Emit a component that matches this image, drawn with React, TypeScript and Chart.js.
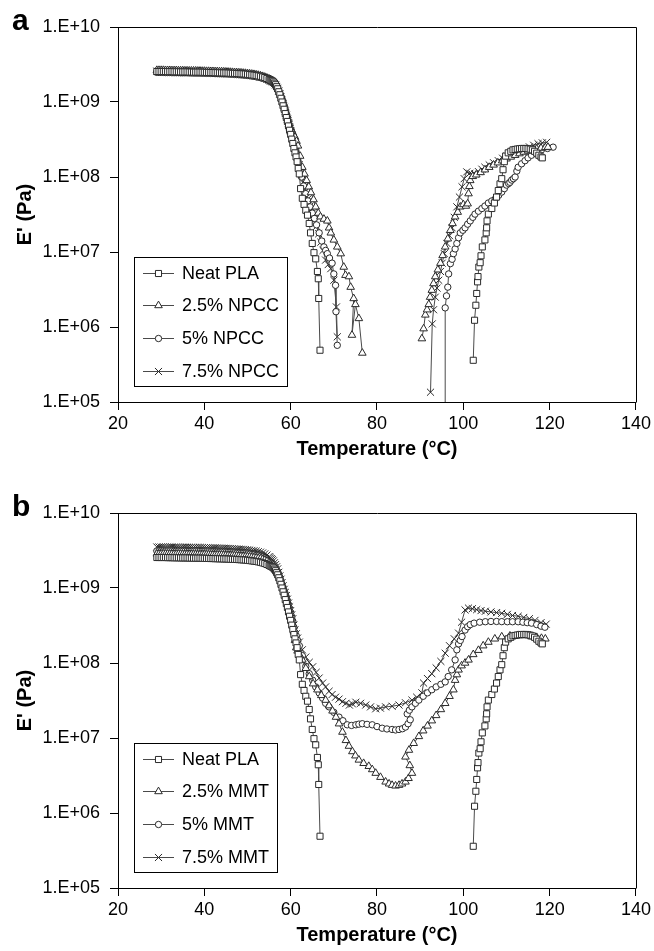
import React, { useEffect, useRef } from 'react';
import { Chart, registerables } from 'chart.js';
import { drawPoint } from 'chart.js/helpers';

Chart.register(...registerables);
Chart.defaults.font.family = "'Liberation Sans', Arial, sans-serif";

// ---------------- DATA ----------------
const tempTicks = [20, 40, 60, 80, 100, 120, 140];
const modulusTicks = [1e5, 1e6, 1e7, 1e8, 1e9, 1e10];

const panelALabels = ['Neat PLA', '2.5% NPCC', '5% NPCC', '7.5% NPCC'];
const panelBLabels = ['Neat PLA', '2.5% MMT', '5% MMT', '7.5% MMT'];

// Shared temperature grid (°C) for the glassy plateau and the first drop
const headT = [
  29, 29.5, 30, 30.5, 31, 31.5, 32, 32.5, 33, 33.5,
  34, 34.5, 35, 35.5, 36, 36.5, 37, 37.5, 38, 38.5,
  39, 39.5, 40, 40.5, 41, 41.5, 42, 42.5, 43, 43.5,
  44, 44.5, 45, 45.5, 46, 46.5, 47, 47.5, 48, 48.5,
  49, 49.5, 50, 50.5, 51, 51.5, 52, 52.5, 53, 53.5,
  54, 54.5, 55,
  55.25, 55.5, 55.75, 56, 56.25, 56.5, 56.75, 57, 57.25, 57.5, 57.75, 58,
  58.25, 58.5, 58.75, 59, 59.25, 59.5, 59.75, 60, 60.25, 60.5, 60.75, 61,
];

// E' (Pa) on headT
const neatHead = [
  2.55e9, 2.55e9, 2.55e9, 2.55e9, 2.55e9, 2.54e9, 2.54e9, 2.54e9, 2.53e9, 2.53e9,
  2.53e9, 2.52e9, 2.52e9, 2.52e9, 2.52e9, 2.51e9, 2.51e9, 2.5e9, 2.5e9, 2.5e9,
  2.5e9, 2.49e9, 2.49e9, 2.48e9, 2.48e9, 2.47e9, 2.47e9, 2.46e9, 2.46e9, 2.45e9,
  2.45e9, 2.44e9, 2.44e9, 2.43e9, 2.42e9, 2.41e9, 2.41e9, 2.4e9, 2.39e9, 2.38e9,
  2.37e9, 2.36e9, 2.34e9, 2.32e9, 2.3e9, 2.28e9, 2.26e9, 2.23e9, 2.2e9, 2.16e9,
  2.12e9, 2.06e9, 2.0e9,
  1.97e9, 1.94e9, 1.9e9, 1.85e9, 1.78e9, 1.7e9, 1.6e9, 1.5e9, 1.37e9, 1.25e9, 1.12e9, 1.0e9,
  8.9e8, 8e8, 7e8, 6.2e8, 5.5e8, 4.8e8, 4.2e8, 3.7e8, 3.2e8, 2.8e8, 2.4e8, 2.1e8,
];
const npcc25Head = [
  2.65e9, 2.65e9, 2.65e9, 2.65e9, 2.64e9, 2.64e9, 2.64e9, 2.63e9, 2.63e9, 2.63e9,
  2.62e9, 2.62e9, 2.62e9, 2.61e9, 2.61e9, 2.6e9, 2.6e9, 2.6e9, 2.6e9, 2.59e9,
  2.59e9, 2.58e9, 2.58e9, 2.57e9, 2.57e9, 2.56e9, 2.56e9, 2.55e9, 2.55e9, 2.54e9,
  2.54e9, 2.53e9, 2.52e9, 2.51e9, 2.5e9, 2.49e9, 2.48e9, 2.47e9, 2.46e9, 2.45e9,
  2.43e9, 2.42e9, 2.4e9, 2.38e9, 2.36e9, 2.34e9, 2.31e9, 2.28e9, 2.24e9, 2.2e9,
  2.15e9, 2.09e9, 2.03e9,
  2.0e9, 1.96e9, 1.92e9, 1.88e9, 1.82e9, 1.75e9, 1.68e9, 1.6e9, 1.48e9, 1.36e9, 1.25e9, 1.15e9,
  1.04e9, 9.3e8, 8.3e8, 7.3e8, 6.6e8, 5.9e8, 5.2e8, 4.6e8, 4.2e8, 3.9e8, 3.6e8, 3.4e8,
];
const npcc5Head = [
  2.48e9, 2.48e9, 2.48e9, 2.48e9, 2.47e9, 2.47e9, 2.47e9, 2.46e9, 2.46e9, 2.46e9,
  2.46e9, 2.45e9, 2.45e9, 2.45e9, 2.45e9, 2.44e9, 2.44e9, 2.43e9, 2.43e9, 2.43e9,
  2.43e9, 2.42e9, 2.42e9, 2.41e9, 2.41e9, 2.4e9, 2.4e9, 2.39e9, 2.39e9, 2.38e9,
  2.38e9, 2.37e9, 2.37e9, 2.36e9, 2.35e9, 2.34e9, 2.33e9, 2.32e9, 2.31e9, 2.3e9,
  2.29e9, 2.27e9, 2.26e9, 2.24e9, 2.22e9, 2.2e9, 2.17e9, 2.14e9, 2.11e9, 2.07e9,
  2.03e9, 1.98e9, 1.92e9,
  1.89e9, 1.85e9, 1.82e9, 1.78e9, 1.72e9, 1.65e9, 1.57e9, 1.48e9, 1.36e9, 1.24e9, 1.13e9, 1.02e9,
  9.2e8, 8.2e8, 7.3e8, 6.4e8, 5.7e8, 5e8, 4.4e8, 3.9e8, 3.4e8, 3e8, 2.65e8, 2.35e8,
];
const npcc75Head = [
  2.58e9, 2.58e9, 2.58e9, 2.58e9, 2.57e9, 2.57e9, 2.57e9, 2.57e9, 2.56e9, 2.56e9,
  2.56e9, 2.55e9, 2.55e9, 2.55e9, 2.54e9, 2.54e9, 2.54e9, 2.53e9, 2.53e9, 2.52e9,
  2.52e9, 2.52e9, 2.51e9, 2.51e9, 2.5e9, 2.5e9, 2.49e9, 2.49e9, 2.48e9, 2.47e9,
  2.47e9, 2.46e9, 2.45e9, 2.44e9, 2.43e9, 2.42e9, 2.41e9, 2.4e9, 2.39e9, 2.38e9,
  2.36e9, 2.35e9, 2.33e9, 2.31e9, 2.29e9, 2.27e9, 2.24e9, 2.21e9, 2.17e9, 2.13e9,
  2.08e9, 2.02e9, 1.96e9,
  1.93e9, 1.89e9, 1.86e9, 1.82e9, 1.76e9, 1.69e9, 1.61e9, 1.52e9, 1.4e9, 1.28e9, 1.16e9, 1.05e9,
  9.5e8, 8.5e8, 7.6e8, 6.7e8, 5.9e8, 5.2e8, 4.6e8, 4.1e8, 3.6e8, 3.2e8, 2.85e8, 2.5e8,
];
const mmt25Head = [
  2.85e9, 2.85e9, 2.85e9, 2.85e9, 2.84e9, 2.84e9, 2.84e9, 2.84e9, 2.83e9, 2.83e9,
  2.83e9, 2.82e9, 2.82e9, 2.82e9, 2.82e9, 2.81e9, 2.81e9, 2.8e9, 2.8e9, 2.8e9,
  2.8e9, 2.79e9, 2.79e9, 2.78e9, 2.78e9, 2.77e9, 2.77e9, 2.76e9, 2.76e9, 2.75e9,
  2.75e9, 2.74e9, 2.73e9, 2.72e9, 2.71e9, 2.7e9, 2.69e9, 2.68e9, 2.67e9, 2.65e9,
  2.64e9, 2.62e9, 2.61e9, 2.59e9, 2.57e9, 2.55e9, 2.52e9, 2.49e9, 2.45e9, 2.4e9,
  2.35e9, 2.28e9, 2.2e9,
  2.15e9, 2.1e9, 2.05e9, 2.0e9, 1.9e9, 1.8e9, 1.7e9, 1.6e9, 1.47e9, 1.35e9, 1.22e9, 1.1e9,
  1.0e9, 9e8, 8.2e8, 7.4e8, 6.6e8, 5.9e8, 5.2e8, 4.6e8, 3.9e8, 3.3e8, 2.6e8, 2.0e8,
];
const mmt5Head = [
  3.12e9, 3.12e9, 3.12e9, 3.12e9, 3.11e9, 3.11e9, 3.11e9, 3.11e9, 3.1e9, 3.1e9,
  3.1e9, 3.09e9, 3.09e9, 3.09e9, 3.08e9, 3.08e9, 3.08e9, 3.07e9, 3.07e9, 3.06e9,
  3.06e9, 3.05e9, 3.05e9, 3.04e9, 3.04e9, 3.03e9, 3.03e9, 3.02e9, 3.02e9, 3.01e9,
  3.0e9, 2.99e9, 2.98e9, 2.97e9, 2.96e9, 2.95e9, 2.94e9, 2.92e9, 2.91e9, 2.89e9,
  2.88e9, 2.86e9, 2.84e9, 2.82e9, 2.79e9, 2.76e9, 2.72e9, 2.68e9, 2.63e9, 2.57e9,
  2.5e9, 2.42e9, 2.32e9,
  2.26e9, 2.2e9, 2.14e9, 2.08e9, 1.97e9, 1.86e9, 1.75e9, 1.65e9, 1.51e9, 1.38e9, 1.25e9, 1.12e9,
  1.02e9, 9.2e8, 8.4e8, 7.6e8, 6.8e8, 6e8, 5.3e8, 4.7e8, 4.1e8, 3.6e8, 3e8, 2.55e8,
];
const mmt75Head = [
  3.52e9, 3.52e9, 3.52e9, 3.52e9, 3.51e9, 3.51e9, 3.51e9, 3.51e9, 3.5e9, 3.5e9,
  3.5e9, 3.49e9, 3.49e9, 3.49e9, 3.48e9, 3.48e9, 3.48e9, 3.47e9, 3.47e9, 3.46e9,
  3.46e9, 3.45e9, 3.45e9, 3.44e9, 3.44e9, 3.43e9, 3.43e9, 3.42e9, 3.41e9, 3.4e9,
  3.4e9, 3.39e9, 3.38e9, 3.37e9, 3.36e9, 3.34e9, 3.33e9, 3.31e9, 3.3e9, 3.28e9,
  3.27e9, 3.25e9, 3.23e9, 3.2e9, 3.17e9, 3.14e9, 3.1e9, 3.05e9, 3.0e9, 2.93e9,
  2.85e9, 2.75e9, 2.62e9,
  2.55e9, 2.47e9, 2.39e9, 2.3e9, 2.17e9, 2.05e9, 1.92e9, 1.8e9, 1.62e9, 1.45e9, 1.31e9, 1.18e9,
  1.07e9, 9.6e8, 8.7e8, 7.9e8, 7.1e8, 6.3e8, 5.6e8, 5e8, 4.4e8, 3.9e8, 3.2e8, 2.75e8,
];

// Remaining readings as [T °C, E' Pa]; a null E breaks the curve
const neatTail: [number, number | null][] = [
  [61.25, 1.85e8], [61.5, 1.6e8], [61.75, 1.3e8], [62, 1.1e8], [62.3, 7e7], [62.7, 5.2e7], [63.1, 4.3e7],
  [63.5, 3.6e7], [63.9, 3.1e7], [64.3, 2.4e7], [64.6, 1.8e7], [65, 1.3e7], [65.4, 9.8e6], [65.8, 8.1e6],
  [66.2, 5.5e6], [66.4, 4.4e6], [66.5, 2.4e6], [66.8, 4.9e5],
  [85, null],
  [102.3, 3.6e5], [102.6, 1.23e6], [102.9, 1.95e6], [103.1, 2.8e6], [103.3, 4.0e6], [103.4, 4.7e6], [103.6, 6.3e6],
  [103.9, 7.2e6], [104.1, 8.9e6], [104.4, 1.17e7], [105, 1.45e7], [105.3, 1.8e7], [105.4, 2.1e7], [105.5, 2.6e7],
  [105.8, 3.2e7], [106.6, 3.8e7], [107.2, 4.5e7], [107.7, 5.4e7], [108.1, 6.6e7], [108.5, 8.1e7], [108.9, 9.5e7],
  [109.2, 1.25e8], [109.5, 1.6e8], [109.8, 1.9e8], [110.4, 2.1e8], [111, 2.2e8], [111.5, 2.3e8], [112, 2.33e8],
  [112.5, 2.36e8], [113, 2.38e8], [113.5, 2.4e8], [114, 2.4e8], [114.5, 2.4e8], [115, 2.38e8], [115.5, 2.35e8],
  [116, 2.3e8], [116.5, 2.2e8], [117, 2.08e8], [117.5, 1.95e8], [118, 1.85e8], [118.3, 1.8e8],
];
const npcc25Tail: [number, number | null][] = [
  [61.35, 3.0e8], [61.7, 2.6e8], [62.2, 1.9e8], [62.7, 1.35e8], [63.2, 1.1e8], [63.7, 9e7], [64.2, 7.4e7],
  [64.7, 6.2e7], [65.3, 5e7], [65.8, 4e7], [66.4, 3.3e7], [66.9, 2.95e7], [67.7, 2.75e7], [68.5, 2.6e7],
  [68.9, 2.1e7], [69.3, 1.8e7], [70, 1.45e7], [70.8, 1.17e7], [71.6, 9.5e6], [72.3, 6.3e6], [72.7, 4.9e6],
  [73.5, 4.7e6], [73.9, 3.4e6], [74.6, 2.4e6], [74.2, 7.8e5], [75, 2.0e6], [75.8, 1.3e6], [76.6, 4.5e5],
  [83, null],
  [90.4, 7e5], [90.8, 9.5e5], [91.2, 1.45e6], [91.6, 1.7e6], [92, 2.0e6], [92.3, 2.5e6], [92.7, 3.1e6], [93.1, 3.8e6],
  [93.5, 4.7e6], [94.1, 5.8e6], [94.7, 7.1e6], [95.2, 9e6], [95.8, 1.17e7], [96.4, 1.5e7], [97, 1.95e7], [97.5, 2.4e7],
  [98.1, 2.95e7], [98.7, 3.4e7], [99.3, 4e7], [100, 4.3e7], [100.6, 4.1e7], [101, 4.4e7], [101.2, 6e7], [101.4, 7.5e7],
  [101.6, 9e7], [102.2, 1.02e8], [103, 1.07e8], [104, 1.15e8], [105, 1.25e8], [106, 1.35e8], [107, 1.45e8],
  [108, 1.55e8], [109, 1.65e8], [110, 1.75e8], [111, 1.85e8], [112, 1.95e8], [113, 2.05e8], [114, 2.15e8],
  [115, 2.22e8], [116, 2.3e8], [117, 2.37e8], [118, 2.43e8], [119, 2.48e8], [119.6, 2.5e8],
];
const npcc5Tail: [number, number | null][] = [
  [61.25, 2.05e8], [61.5, 1.8e8], [61.75, 1.55e8], [62, 1.3e8], [62.5, 1e8], [63, 7.6e7], [63.5, 6e7], [64, 4.8e7],
  [64.5, 4e7], [65, 3.3e7], [65.5, 2.8e7], [66, 2.3e7], [66.6, 1.8e7], [67.2, 1.4e7], [67.7, 1.17e7], [68.1, 1.05e7],
  [68.5, 9.5e6], [69, 8.3e6], [69.6, 7.1e6], [70, 5.1e6], [70.4, 3.6e6], [70.5, 1.6e6], [70.8, 5.7e5],
  [85, null],
  [95.8, 2e4], [95.8, 1.8e6], [96.1, 2.6e6], [96.4, 3.4e6], [96.6, 5.1e6], [97, 7e6], [97.4, 8e6], [97.7, 9.5e6],
  [98.1, 1.1e7], [98.5, 1.3e7], [98.9, 1.55e7], [99.3, 1.8e7], [99.9, 1.95e7], [100.4, 2.1e7], [101, 2.35e7],
  [101.6, 2.6e7], [102.2, 2.9e7], [102.7, 3.2e7], [103.5, 3.5e7], [104.3, 3.8e7], [105, 4.1e7], [105.8, 4.5e7],
  [106.6, 4.8e7], [107.4, 5.1e7], [108.2, 5.7e7], [108.9, 6.3e7], [109.5, 7e7], [110, 7.8e7], [110.5, 8.2e7],
  [110.8, 8.5e7], [111.2, 9.1e7], [111.6, 9.5e7], [112, 1.0e8], [112.4, 1.2e8], [112.7, 1.35e8], [113.5, 1.5e8],
  [114.3, 1.65e8], [115, 1.8e8], [115.8, 1.95e8], [117, 2.15e8], [118.1, 2.3e8], [119.5, 2.4e8], [120.8, 2.5e8],
];
const npcc75Tail: [number, number | null][] = [
  [61.25, 2.2e8], [61.5, 1.9e8], [61.75, 1.65e8], [62, 1.45e8], [62.5, 1.1e8], [63, 8.3e7], [63.5, 6.5e7],
  [64, 5.1e7], [64.5, 4.1e7], [65, 3.3e7], [65.5, 2.7e7], [66, 2.2e7], [66.5, 1.75e7], [67, 1.35e7], [67.5, 1.05e7],
  [68.1, 7.8e6], [68.7, 6.8e6], [69.3, 6e6], [70, 4.2e6], [70.6, 1.85e6], [70.8, 7.4e5],
  [85, null],
  [92.4, 1.35e5], [92.8, 1.1e6], [93.1, 1.7e6], [93.5, 2.5e6], [93.9, 3.3e6], [94.3, 4.2e6], [94.7, 5.5e6],
  [95.1, 7.1e6], [95.6, 9.5e6], [96.2, 1.3e7], [96.8, 1.65e7], [97.4, 2.1e7], [97.9, 2.9e7], [98.5, 4e7],
  [99.1, 5.4e7], [99.7, 7.4e7], [100.2, 9.5e7], [100.8, 1.17e8], [101.5, 1.12e8], [102.1, 1.08e8], [102.7, 1.1e8],
  [103.5, 1.18e8], [104.3, 1.27e8], [105, 1.35e8], [106, 1.45e8], [107, 1.55e8], [108.1, 1.65e8], [109.1, 1.78e8],
  [110.1, 1.9e8], [111.2, 2.05e8], [112.2, 2.15e8], [113.3, 2.28e8], [114.3, 2.4e8], [115.3, 2.52e8],
  [116.3, 2.65e8], [117.3, 2.78e8], [118.3, 2.85e8], [119.3, 2.9e8],
];
const mmt25Tail: [number, number | null][] = [
  [61.3, 1.6e8], [61.6, 1.45e8], [62, 1.3e8], [62.7, 1.1e8], [63.5, 8.5e7],
  [64.3, 6.6e7], [65.2, 5.3e7], [66.2, 4.4e7], [67.1, 3.7e7], [68.1, 3.2e7], [68.9, 2.7e7], [69.7, 2.3e7],
  [70.5, 1.9e7], [71.2, 1.55e7], [72, 1.2e7], [72.8, 9.3e6], [73.5, 7.8e6], [74.3, 6.6e6], [75, 5.8e6], [75.8, 5.1e6],
  [76.9, 4.6e6], [78.1, 4.2e6], [78.9, 3.8e6], [79.7, 3.4e6], [80.8, 3e6], [82, 2.6e6], [82.8, 2.45e6], [83.5, 2.35e6],
  [84.3, 2.3e6], [85.1, 2.35e6], [85.8, 2.45e6], [86.6, 2.6e6], [87.3, 2.9e6], [88.1, 3.4e6], [87.6, 4.3e6],
  [86.6, 5.6e6], [87.4, 6.9e6], [88.5, 8.5e6], [89.7, 1.05e7], [90.7, 1.25e7], [91.7, 1.45e7], [92.7, 1.7e7],
  [93.7, 2.0e7], [94.8, 2.4e7], [95.8, 2.9e7], [96.8, 3.6e7], [97.7, 4.4e7], [98.1, 5.9e7], [98.5, 7e7], [98.9, 8.1e7],
  [99.6, 9.2e7], [100.4, 1.0e8], [101.2, 1.1e8], [102.3, 1.3e8], [103.5, 1.48e8], [104.6, 1.7e8], [105.8, 1.9e8],
  [107.3, 2.1e8], [108.9, 2.24e8], [110.8, 2.3e8], [112.7, 2.34e8], [114.3, 2.32e8], [115.8, 2.24e8], [117, 2.2e8],
  [118.1, 2.14e8], [119, 2.1e8],
];
const mmt5Tail: [number, number | null][] = [
  [61.3, 2.3e8], [61.6, 2e8], [62, 1.7e8], [62.7, 1.25e8], [63.5, 9e7],
  [64.3, 7.2e7], [65.1, 5.9e7], [65.8, 4.8e7], [66.6, 4e7], [67.4, 3.4e7], [68.1, 2.9e7], [68.9, 2.6e7], [70, 2.2e7],
  [71.2, 1.9e7], [72.1, 1.7e7], [73.1, 1.5e7], [74.1, 1.47e7], [75.1, 1.5e7], [75.8, 1.53e7], [76.6, 1.55e7],
  [77.7, 1.52e7], [78.9, 1.5e7], [80, 1.42e7], [81.2, 1.35e7], [82.3, 1.32e7], [83.5, 1.3e7], [84.3, 1.28e7],
  [85.1, 1.3e7], [85.9, 1.33e7], [86.6, 1.4e7], [87.2, 1.55e7], [87.7, 1.75e7], [87, 2.1e7], [87.5, 2.35e7],
  [88.1, 2.6e7], [88.9, 2.9e7], [89.7, 3.2e7], [90.7, 3.6e7], [91.7, 4e7], [92.7, 4.4e7], [93.7, 4.8e7], [94.8, 5.2e7],
  [95.8, 5.6e7], [96.5, 6.6e7], [97.3, 8.1e7], [98.1, 1.1e8], [98.5, 1.5e8], [98.9, 1.8e8], [99.3, 2.0e8],
  [99.7, 2.25e8], [100.4, 2.75e8], [101, 3.05e8], [101.6, 3.25e8], [102.5, 3.4e8], [103.8, 3.5e8], [105.1, 3.55e8],
  [106.4, 3.58e8], [107.7, 3.58e8], [108.9, 3.56e8], [110.2, 3.55e8], [111.4, 3.55e8], [112.7, 3.55e8], [113.8, 3.5e8],
  [114.8, 3.45e8], [115.8, 3.4e8], [117, 3.25e8], [118, 3.1e8], [118.9, 3.0e8],
];
const mmt75Tail: [number, number | null][] = [
  [61.3, 2.45e8], [61.6, 2.15e8], [62, 1.9e8], [62.7, 1.5e8], [63.5, 1.2e8],
  [64.3, 1.02e8], [65.1, 8.9e7], [65.9, 7.5e7], [66.6, 6.3e7], [67.4, 5.4e7], [68.1, 4.8e7], [68.9, 4.2e7],
  [69.6, 3.8e7], [70.4, 3.5e7], [71.2, 3.3e7], [72, 3.05e7], [72.8, 2.9e7], [73.6, 2.75e7], [74.3, 2.85e7],
  [75.1, 3e7], [76.2, 2.9e7], [77.4, 2.75e7], [78.5, 2.6e7], [79.7, 2.45e7], [80.8, 2.5e7], [82, 2.6e7],
  [83.5, 2.65e7], [85.1, 2.75e7], [86.6, 2.95e7], [88.1, 3.2e7], [89.2, 3.5e7], [90.4, 4e7], [90.8, 5.4e7],
  [91.7, 6.2e7], [92.7, 7.2e7], [93.7, 8.6e7], [94.8, 1.05e8], [95.8, 1.35e8], [96.8, 1.7e8], [97.9, 2.1e8],
  [98.9, 2.5e8], [99.6, 3.5e8], [100.4, 5.1e8], [101.2, 5.4e8], [102.1, 5.3e8], [103.1, 5.15e8], [104.1, 5e8],
  [105.1, 4.9e8], [106.4, 4.8e8], [107.7, 4.7e8], [108.9, 4.6e8], [110.2, 4.45e8], [111.4, 4.3e8], [112.7, 4.2e8],
  [114, 4.05e8], [115.3, 3.9e8], [116.6, 3.7e8], [118, 3.45e8], [119.2, 3.3e8],
];

const panelAData = [
  { head: neatHead, tail: neatTail },
  { head: npcc25Head, tail: npcc25Tail },
  { head: npcc5Head, tail: npcc5Tail },
  { head: npcc75Head, tail: npcc75Tail },
];
const panelBData = [
  { head: neatHead, tail: neatTail },
  { head: mmt25Head, tail: mmt25Tail },
  { head: mmt5Head, tail: mmt5Tail },
  { head: mmt75Head, tail: mmt75Tail },
];

// ---------------- STYLE ----------------
const FONT = "'Liberation Sans', Arial, sans-serif";
const markerStyles = [
  { pointStyle: 'rect', radius: 4.3 },
  { pointStyle: 'triangle', radius: 4.4 },
  { pointStyle: 'circle', radius: 3.2 },
  { pointStyle: 'crossRot', radius: 5 },
];
const LINE_COLOR = '#4a4a4a';
const MARK_COLOR = '#2a2a2a';

function makeDecor(letter: string, labels: string[]) {
  return {
    id: 'decor' + letter,
    afterDraw(chart: any) {
      const ctx: CanvasRenderingContext2D = chart.ctx;
      const { left, top, right, bottom } = chart.chartArea;
      ctx.save();
      ctx.strokeStyle = '#000';
      ctx.lineWidth = 1;
      ctx.beginPath();
      const L = Math.round(left) + 0.5;
      const T = Math.round(top) + 0.5;
      const R = Math.round(right) + 0.5;
      const B = Math.round(bottom) + 0.5;
      ctx.moveTo(L, T);
      ctx.lineTo(R, T);
      ctx.lineTo(R, B);
      ctx.stroke();

      // legend box
      ctx.font = `18px ${FONT}`;
      const textX = left + 64;
      let maxW = 0;
      labels.forEach((l) => (maxW = Math.max(maxW, ctx.measureText(l).width)));
      const boxL = Math.round(left + 16) + 0.5;
      const boxT = Math.round(bottom - 145) + 0.5;
      const boxB = Math.round(bottom - 16) + 0.5;
      const boxR = Math.round(textX + maxW + 8) + 0.5;
      ctx.fillStyle = '#fff';
      ctx.fillRect(boxL, boxT, boxR - boxL, boxB - boxT);
      ctx.strokeStyle = '#000';
      ctx.strokeRect(boxL, boxT, boxR - boxL, boxB - boxT);
      labels.forEach((l, i) => {
        const y = Math.round(boxT + 15 + i * 32.8) + 0.5;
        ctx.strokeStyle = LINE_COLOR;
        ctx.lineWidth = 1;
        ctx.beginPath();
        ctx.moveTo(left + 25, y);
        ctx.lineTo(left + 56, y);
        ctx.stroke();
        ctx.fillStyle = '#fff';
        ctx.strokeStyle = MARK_COLOR;
        drawPoint(ctx, { pointStyle: markerStyles[i].pointStyle as any, radius: markerStyles[i].radius, rotation: 0, borderWidth: 1 }, left + 40.5, y);
        ctx.fillStyle = '#000';
        ctx.textAlign = 'left';
        ctx.textBaseline = 'middle';
        ctx.font = `18px ${FONT}`;
        ctx.fillText(l, textX, y + 1);
      });

      // panel letter
      ctx.fillStyle = '#000';
      ctx.font = `bold 30px ${FONT}`;
      ctx.textAlign = 'left';
      ctx.textBaseline = 'middle';
      ctx.fillText(letter, 12, 22);
      ctx.restore();
    },
  };
}

type SeriesIn = { head: number[]; tail: [number, number | null][] };

function Panel({ letter, labels, data, top }: { letter: string; labels: string[]; data: SeriesIn[]; top: number }) {
  const ref = useRef<HTMLCanvasElement>(null);
  useEffect(() => {
    const datasets = data.map((s, i) => ({
      label: labels[i],
      data: [
        ...headT.map((x, k) => ({ x, y: s.head[k] ?? null })),
        ...s.tail.map(([x, y]) => ({ x, y })),
      ],
      showLine: true,
      spanGaps: false,
      borderColor: LINE_COLOR,
      borderWidth: 1,
      pointStyle: markerStyles[i].pointStyle,
      pointRadius: markerStyles[i].radius,
      pointHoverRadius: markerStyles[i].radius,
      pointBackgroundColor: '#fff',
      pointBorderColor: MARK_COLOR,
      pointBorderWidth: 1,
      clip: 0,
    }));
    const chart = new Chart(ref.current as HTMLCanvasElement, {
      type: 'scatter',
      data: { datasets: datasets as any },
      options: {
        animation: false,
        responsive: false,
        maintainAspectRatio: false,
        events: [],
        layout: { padding: { top: 27, right: 16, bottom: 0, left: 0 } },
        plugins: { legend: { display: false }, tooltip: { enabled: false } },
        scales: {
          x: {
            type: 'linear',
            min: 20,
            max: 140,
            afterBuildTicks: (s: any) => {
              s.ticks = tempTicks.map((v) => ({ value: v }));
            },
            afterFit: (s: any) => {
              s.height = 63;
            },
            grid: { drawOnChartArea: false, drawTicks: true, tickLength: 8, color: '#000', tickColor: '#000' },
            border: { display: true, color: '#000', width: 1 },
            ticks: { autoSkip: false, maxRotation: 0, padding: 3, color: '#000', font: { size: 18, family: FONT }, callback: (v: any) => String(v) },
            title: { display: true, text: 'Temperature (°C)', color: '#000', font: { size: 20, weight: 'bold', family: FONT }, padding: { top: 0, bottom: 4 } },
          },
          y: {
            type: 'logarithmic',
            min: 1e5,
            max: 1e10,
            afterBuildTicks: (s: any) => {
              s.ticks = modulusTicks.map((v) => ({ value: v }));
            },
            afterFit: (s: any) => {
              s.width = 118;
            },
            grid: { drawOnChartArea: false, drawTicks: true, tickLength: 8, color: '#000', tickColor: '#000' },
            border: { display: true, color: '#000', width: 1 },
            ticks: {
              autoSkip: false,
              padding: 10,
              color: '#000',
              font: { size: 18, family: FONT },
              callback: (v: any) => '1.E+' + String(Math.round(Math.log10(Number(v)))).padStart(2, '0'),
            },
            title: { display: true, text: "E' (Pa)", color: '#000', font: { size: 20, weight: 'bold', family: FONT }, padding: { top: 13, bottom: 0 } },
          },
        },
      } as any,
      plugins: [makeDecor(letter, labels)],
    });
    return () => chart.destroy();
  }, []);
  return <canvas ref={ref} width={654} height={465} style={{ position: 'absolute', left: 0, top, width: 654, height: 465 }} />;
}

export default function App() {
  return (
    <div style={{ position: 'absolute', left: 0, top: 0, width: 654, height: 951, background: '#fff' }}>
      <Panel letter="a" labels={panelALabels} data={panelAData} top={0} />
      <Panel letter="b" labels={panelBLabels} data={panelBData} top={486} />
    </div>
  );
}
